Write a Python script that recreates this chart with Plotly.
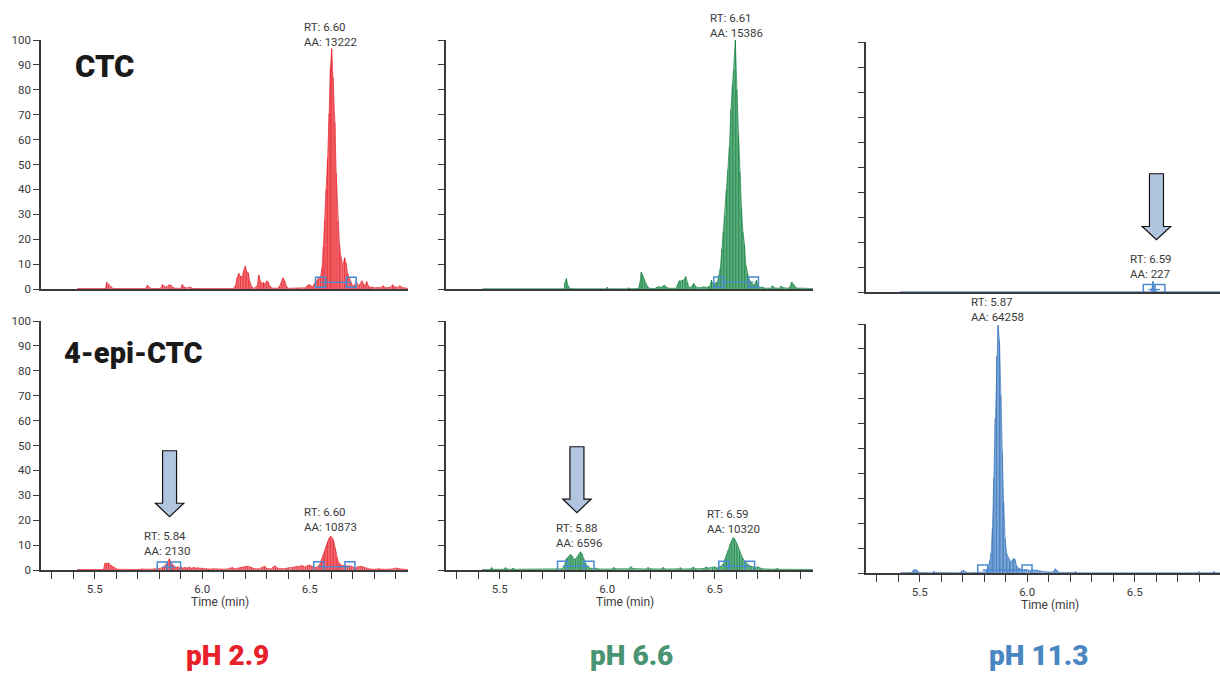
import plotly.graph_objects as go

W, H = 1220, 673

# ---------------- data (time in min, relative intensity %) ----------------
ctc_29_t = [5.42, 5.55, 5.555, 5.565, 5.575, 5.585, 5.735, 5.745, 5.755, 5.765,
            5.805, 5.815, 5.825, 5.835, 5.845, 5.855, 5.865, 5.875, 5.9, 5.907,
            5.915, 5.925, 5.945, 5.955, 6.145, 6.155, 6.162, 6.17, 6.178, 6.186,
            6.193, 6.2, 6.207, 6.214, 6.221, 6.23, 6.24, 6.255, 6.263, 6.27,
            6.278, 6.285, 6.292, 6.3, 6.307, 6.315, 6.325, 6.35, 6.36, 6.368,
            6.376, 6.384, 6.392, 6.4, 6.44, 6.45, 6.48, 6.488, 6.496, 6.504,
            6.512, 6.52, 6.528, 6.535, 6.542, 6.55, 6.558, 6.563, 6.57, 6.576,
            6.583, 6.59, 6.596, 6.602, 6.609, 6.617, 6.623, 6.631, 6.638, 6.645,
            6.654, 6.662, 6.669, 6.676, 6.684, 6.692, 6.70, 6.708, 6.717, 6.725,
            6.733, 6.742, 6.75, 6.757, 6.765, 6.773, 6.78, 6.79, 6.80, 6.815,
            6.83, 6.843, 6.85, 6.86, 6.875, 6.885, 6.893, 6.905, 6.92, 6.93, 6.955]
ctc_29_i = [0.2, 0.2, 2.7, 1.8, 0.7, 0.2, 0.2, 1.5, 0.6, 0.2,
            0.2, 1.8, 1.0, 0.8, 1.7, 1.5, 0.6, 0.3, 0.3, 1.8,
            0.9, 0.4, 0.8, 0.2, 0.2, 1.5, 4.5, 6.3, 5.0, 5.0,
            7.5, 9.2, 7.0, 6.5, 3.0, 1.0, 0.3, 1.2, 5.6, 3.3,
            2.2, 2.6, 2.0, 3.3, 2.8, 1.2, 0.4, 0.3, 1.2, 3.0,
            4.5, 3.2, 1.0, 0.3, 0.3, 0.6, 0.5, 1.3, 1.8, 1.5,
            0.8, 2.0, 3.0, 3.5, 4.5, 5.0, 9.0, 17.0, 28.0, 40.0,
            52.5, 70.5, 89.0, 96.5, 85.0, 67.0, 46.5, 27.0, 18.3, 13.0,
            9.2, 12.6, 10.3, 6.3, 4.3, 2.3, 1.2, 1.5, 3.0, 1.5,
            1.8, 3.3, 1.8, 1.2, 3.0, 1.2, 0.6, 0.8, 0.5, 0.7,
            0.6, 1.3, 0.6, 0.5, 0.7, 1.7, 1.0, 0.6, 1.3, 0.6, 0.3]

ctc_66_t = [5.42, 5.80, 5.803, 5.81, 5.817, 5.825, 5.84, 5.995, 6.0, 6.005,
            6.095, 6.10, 6.105, 6.145, 6.152, 6.158, 6.165, 6.172, 6.18, 6.188,
            6.196, 6.22, 6.232, 6.24, 6.25, 6.258, 6.265, 6.272, 6.28, 6.29,
            6.32, 6.328, 6.335, 6.342, 6.35, 6.358, 6.365, 6.372, 6.38, 6.39,
            6.396, 6.402, 6.41, 6.42, 6.43, 6.44, 6.45, 6.46, 6.47, 6.478,
            6.485, 6.492, 6.50, 6.506, 6.512, 6.519, 6.526, 6.533, 6.54, 6.547,
            6.554, 6.561, 6.568, 6.575, 6.582, 6.589, 6.596, 6.603, 6.61, 6.617,
            6.624, 6.631, 6.638, 6.645, 6.652, 6.659, 6.666, 6.673, 6.68, 6.687,
            6.694, 6.701, 6.71, 6.72, 6.73, 6.76, 6.768, 6.776, 6.80, 6.808,
            6.816, 6.84, 6.85, 6.858, 6.865, 6.872, 6.88, 6.955]
ctc_66_i = [0.1, 0.1, 2.5, 4.2, 1.5, 0.3, 0.1, 0.1, 0.7, 0.1,
            0.1, 0.5, 0.1, 0.2, 2.5, 6.8, 5.5, 3.8, 2.2, 1.0,
            0.3, 0.2, 0.8, 1.0, 0.6, 1.0, 1.6, 1.0, 0.5, 0.3,
            0.3, 2.0, 3.3, 3.2, 3.5, 3.8, 5.0, 2.5, 0.8, 0.5,
            1.5, 2.3, 1.3, 0.6, 0.5, 0.7, 0.9, 0.6, 0.8, 1.2,
            3.6, 1.8, 2.2, 2.5, 2.8, 5.5, 8.5, 16.0, 23.0, 29.6,
            40.0, 48.0, 57.0, 72.0, 82.0, 88.0, 100.0, 80.0, 62.0, 47.0,
            33.0, 23.0, 18.0, 9.5, 6.0, 4.0, 3.0, 2.2, 1.5, 2.2,
            3.5, 1.5, 0.6, 0.8, 0.4, 0.3, 1.3, 0.5, 0.3, 1.2,
            0.6, 0.3, 0.8, 2.8, 2.0, 1.0, 0.4, 0.2]

ctc_113_t = [5.41, 6.575, 6.58, 6.585, 6.59, 6.595, 6.60, 6.61, 6.896]
ctc_113_i = [0.1, 0.1, 1.5, 4.3, 1.8, 1.0, 0.3, 0.1, 0.1]

epi_29_t = [5.42, 5.54, 5.548, 5.556, 5.564, 5.572, 5.58, 5.588, 5.596, 5.605,
            5.70, 5.72, 5.75, 5.78, 5.80, 5.815, 5.825, 5.833, 5.84, 5.847,
            5.855, 5.862, 5.87, 5.878, 5.886, 5.894, 5.902, 5.91, 5.92, 5.93,
            5.94, 5.95, 5.96, 5.97, 5.98, 5.99, 6.0, 6.01, 6.02, 6.03,
            6.05, 6.07, 6.09, 6.11, 6.13, 6.14, 6.15, 6.17, 6.18, 6.19,
            6.20, 6.21, 6.22, 6.23, 6.24, 6.26, 6.28, 6.29, 6.30, 6.32,
            6.33, 6.34, 6.35, 6.37, 6.39, 6.40, 6.42, 6.43, 6.44, 6.45,
            6.46, 6.47, 6.48, 6.49, 6.50, 6.51, 6.52, 6.53, 6.54, 6.548,
            6.555, 6.562, 6.569, 6.576, 6.583, 6.59, 6.597, 6.604, 6.611, 6.618,
            6.625, 6.632, 6.639, 6.646, 6.655, 6.665, 6.675, 6.685, 6.695, 6.705,
            6.715, 6.725, 6.735, 6.745, 6.755, 6.765, 6.78, 6.80, 6.82, 6.84,
            6.87, 6.905, 6.915, 6.955]
epi_29_i = [0.2, 0.2, 2.8, 2.6, 2.8, 2.0, 1.6, 1.2, 0.6, 0.3,
            0.2, 0.4, 0.3, 0.4, 0.6, 1.0, 1.5, 2.5, 3.5, 4.5,
            3.0, 2.2, 1.5, 1.0, 1.3, 0.9, 1.2, 0.8, 1.0, 0.8,
            1.1, 0.7, 1.0, 0.8, 0.9, 0.6, 0.8, 0.5, 0.6, 0.4,
            0.5, 0.3, 0.4, 0.3, 0.6, 1.0, 0.5, 0.8, 1.0, 1.2,
            1.4, 1.5, 1.3, 1.0, 0.6, 0.4, 1.0, 1.5, 0.7, 0.4,
            1.2, 1.6, 0.8, 0.5, 0.6, 0.9, 1.0, 1.2, 1.5, 1.3,
            1.8, 1.6, 1.2, 1.8, 2.0, 1.5, 1.2, 1.0, 1.5, 2.5,
            4.4, 6.0, 7.8, 9.8, 11.5, 12.8, 13.6, 13.0, 11.8, 8.8,
            5.0, 3.5, 2.5, 2.0, 1.8, 1.8, 1.6, 1.8, 1.5, 1.0,
            0.8, 1.3, 1.5, 1.3, 1.0, 0.6, 0.4, 0.3, 0.5, 0.3,
            0.3, 0.8, 0.5, 0.2]

epi_66_t = [5.42, 5.455, 5.462, 5.47, 5.52, 5.527, 5.535, 5.555, 5.562, 5.57,
            5.79, 5.80, 5.808, 5.815, 5.822, 5.83, 5.837, 5.845, 5.852, 5.86,
            5.868, 5.875, 5.882, 5.89, 5.898, 5.905, 5.915, 5.925, 5.95, 5.96,
            6.02, 6.03, 6.04, 6.10, 6.11, 6.12, 6.18, 6.19, 6.20, 6.25,
            6.26, 6.27, 6.33, 6.34, 6.35, 6.39, 6.40, 6.41, 6.45, 6.46,
            6.47, 6.49, 6.50, 6.51, 6.52, 6.53, 6.54, 6.548, 6.555, 6.562,
            6.57, 6.577, 6.585, 6.592, 6.60, 6.607, 6.615, 6.622, 6.63, 6.64,
            6.65, 6.66, 6.67, 6.68, 6.69, 6.70, 6.71, 6.72, 6.78, 6.79,
            6.80, 6.955]
epi_66_i = [0.2, 0.2, 1.0, 0.3, 0.3, 1.0, 0.4, 0.3, 0.8, 0.3,
            0.5, 1.5, 4.3, 4.8, 5.6, 6.3, 5.5, 4.5, 4.3, 5.2,
            6.2, 7.3, 6.6, 4.5, 2.5, 1.5, 1.0, 0.6, 0.7, 0.4,
            0.4, 1.0, 0.5, 0.5, 1.3, 0.6, 0.4, 1.0, 0.5, 0.4,
            1.0, 0.4, 0.5, 0.9, 0.4, 0.5, 1.2, 0.5, 0.6, 1.2,
            0.8, 1.0, 1.3, 0.8, 1.3, 1.6, 2.5, 4.5, 6.3, 8.0,
            10.3, 11.5, 13.0, 12.5, 11.2, 9.5, 7.6, 6.0, 4.8, 3.5,
            2.6, 1.8, 1.5, 1.2, 1.0, 1.3, 0.8, 0.5, 0.3, 0.6,
            0.3, 0.2]

epi_113_t = [5.41, 5.465, 5.47, 5.477, 5.484, 5.49, 5.497, 5.56, 5.565, 5.57,
             5.69, 5.695, 5.702, 5.71, 5.72, 5.76, 5.78, 5.80, 5.81, 5.818,
             5.826, 5.832, 5.838, 5.844, 5.85, 5.857, 5.864, 5.871, 5.877, 5.884,
             5.89, 5.897, 5.904, 5.91, 5.917, 5.923, 5.93, 5.936, 5.943, 5.95,
             5.957, 5.965, 5.975, 5.985, 5.995, 6.005, 6.015, 6.025, 6.035, 6.045,
             6.055, 6.065, 6.08, 6.09, 6.10, 6.11, 6.125, 6.13, 6.137, 6.145,
             6.16, 6.22, 6.225, 6.23, 6.79, 6.80, 6.805, 6.86, 6.87, 6.875, 6.896]
epi_113_i = [0.1, 0.2, 1.2, 1.3, 1.3, 0.8, 0.2, 0.1, 0.8, 0.2,
             0.1, 0.8, 1.1, 0.6, 0.1, 0.2, 0.3, 0.4, 0.8, 2.0,
             5.0, 8.0, 18.0, 38.0, 62.0, 87.0, 99.5, 93.0, 71.4, 48.0,
             28.5, 14.0, 8.0, 6.5, 5.5, 4.4, 5.1, 5.8, 5.5, 3.0,
             2.0, 1.8, 1.2, 1.0, 1.4, 1.2, 1.0, 1.3, 1.2, 1.3,
             0.9, 0.8, 0.5, 0.6, 0.4, 0.3, 0.8, 1.7, 1.2, 0.4,
             0.2, 0.2, 0.6, 0.1, 0.1, 0.5, 0.1, 0.1, 0.6, 0.1, 0.1]

# integration markers (start / end of each integrated peak)
intg_ctc_29 = [([6.55, 6.693], [2.7, 2.7])]
intg_ctc_66 = [([6.519, 6.68], [2.8, 2.8])]
intg_ctc_113 = [([6.563, 6.617], [1.0, 1.0])]
intg_epi_29 = [([5.814, 5.876], [1.2, 1.2]), ([6.542, 6.687], [1.3, 1.3])]
intg_epi_66 = [([5.792, 5.915], [1.5, 1.5]), ([6.542, 6.662], [1.5, 1.5])]
intg_epi_113 = [([5.793, 5.999], [1.2, 1.2])]

# peak labels: (rt, aa, text x position in min, vertical position in axis-domain units)
lab_ctc_29 = [("6.60", "13222", 6.464, 1.024)]
lab_ctc_66 = [("6.61", "15386", 6.469, 1.060)]
lab_ctc_113 = [("6.59", "227", 6.470, 0.101)]
lab_epi_29 = [("5.84", "2130", 5.718, 0.107), ("6.60", "10873", 6.463, 0.201)]
lab_epi_66 = [("5.88", "6596", 5.752, 0.137), ("6.59", "10320", 6.455, 0.194)]
lab_epi_113 = [("5.87", "64258", 5.729, 1.059)]

# arrows: (tip time, tip intensity, head-base intensity, top intensity)
arrows = {4: (5.848, 21.4, 26.8, 47.9), 5: (5.859, 23.0, 28.5, 49.5), 3: (6.601, 20.9, 26.2, 47.3)}

y_tick_vals = [0, 10, 20, 30, 40, 50, 60, 70, 80, 90, 100]
x_tick_vals = [5.3, 5.4, 5.5, 5.6, 5.7, 5.8, 5.9, 6.0, 6.1, 6.2, 6.3, 6.4, 6.5, 6.6, 6.7, 6.8, 6.9]
x_tick_text = ["", "", "5.5", "", "", "", "", "6.0", "", "", "", "", "6.5", "", "", "", ""]
x_title = "Time (min)"
x_title_center = {4: 6.083, 5: 6.083, 6: 6.106}   # time at which the axis title is centred
x_title_px = {4: 602, 5: 602, 6: 605}             # vertical pixel of the axis title

ph_labels = ["pH 2.9", "pH 6.6", "pH 11.3"]
compound_labels = ["CTC", "4-epi-CTC"]

# ---------------- styling ----------------
RED = dict(light="#f98d92", dark="#e31b24")
GREEN = dict(light="#86c9a0", dark="#0c7a3b")
BLUE = dict(light="#a8c7ea", dark="#2d6cb6")
INTG = "#4a8ad0"
AX = "#3a3a3a"
TXT = "#3a3a3a"
FONT = "Roboto, Liberation Sans, Arial, sans-serif"

# panel geometry in pixels: (left, right, top, bottom)
panels = {
    1: (41, 408, 40, 289),
    2: (446, 813, 40, 289),
    3: (866, 1220, 42, 292),
    4: (41, 408, 321, 570),
    5: (446, 813, 321, 570),
    6: (866, 1220, 324, 573),
}
PX_PER_MIN = 215.0
X0 = 5.25

series = {
    1: (ctc_29_t, ctc_29_i, RED, intg_ctc_29, lab_ctc_29),
    2: (ctc_66_t, ctc_66_i, GREEN, intg_ctc_66, lab_ctc_66),
    3: (ctc_113_t, ctc_113_i, BLUE, intg_ctc_113, lab_ctc_113),
    4: (epi_29_t, epi_29_i, RED, intg_epi_29, lab_epi_29),
    5: (epi_66_t, epi_66_i, GREEN, intg_epi_66, lab_epi_66),
    6: (epi_113_t, epi_113_i, BLUE, intg_epi_113, lab_epi_113),
}

fig = go.Figure()
layout = dict(width=W, height=H, margin=dict(l=0, r=0, t=0, b=0, pad=0), autosize=False,
              paper_bgcolor="white", plot_bgcolor="white", showlegend=False)
annotations = []
shapes = []

for k, (l, r, t, b) in panels.items():
    xs = "" if k == 1 else str(k)
    xa, ya = "x" + xs, "y" + xs
    bottom = k >= 4
    layout["xaxis" + xs] = dict(
        domain=[l / W, r / W], anchor=ya, range=[X0, X0 + (r - l) / PX_PER_MIN],
        showline=True, linecolor=AX, linewidth=1.5, showgrid=False, zeroline=False,
        ticks="outside" if bottom else "", ticklen=7, tickwidth=1.2, tickcolor=AX,
        tickvals=x_tick_vals, ticktext=x_tick_text, showticklabels=bottom,
        tickfont=dict(family=FONT, size=11.5, color=TXT), automargin=False,
        fixedrange=True)
    layout["yaxis" + xs] = dict(
        domain=[1 - b / H, 1 - t / H], anchor=xa, range=[0, 100],
        showline=True, linecolor=AX, linewidth=1.5, showgrid=False, zeroline=False,
        ticks="outside", ticklen=6, tickwidth=1.2, tickcolor=AX,
        tickvals=y_tick_vals, showticklabels=(k in (1, 4)), automargin=False,
        tickfont=dict(family=FONT, size=11.5, color=TXT), fixedrange=True)

    tt, ii, col, intg, labs = series[k]
    # light filled envelope of the chromatogram
    fig.add_trace(go.Scatter(x=tt, y=ii, mode="lines", xaxis=xa, yaxis=ya,
                             line=dict(color=col["dark"], width=0.6), fill="tozeroy",
                             fillcolor=col["light"], hoverinfo="skip"))
    # dark stick at each scan
    sx, sy = [], []
    for tv, iv in zip(tt, ii):
        sx += [tv, tv, None]
        sy += [0, iv, None]
    fig.add_trace(go.Scatter(x=sx, y=sy, mode="lines", xaxis=xa, yaxis=ya,
                             line=dict(color=col["dark"], width=0.75), hoverinfo="skip"))
    for (ix, iy) in intg:
        fig.add_trace(go.Scatter(x=ix, y=iy, mode="lines+markers", xaxis=xa, yaxis=ya,
                                 line=dict(color=INTG, width=1.3),
                                 marker=dict(symbol="square-open", size=10, color=INTG,
                                             line=dict(width=1.5, color=INTG))))
    for (rt, aa, lx, ly) in labs:
        annotations.append(dict(text=f"RT: {rt}<br>AA: {aa}", x=lx, xref=xa,
                                y=ly, yref=ya + " domain", xanchor="left", yanchor="middle",
                                align="left", showarrow=False,
                                font=dict(family=FONT, size=11.5, color=TXT)))
    if bottom:
        annotations.append(dict(text=x_title, x=x_title_center[k], xref=xa,
                                y=(b - x_title_px[k]) / (b - t), yref=ya + " domain",
                                xanchor="center", yanchor="middle", showarrow=False,
                                font=dict(family=FONT, size=12, color=TXT)))
    if k in arrows:
        tx, ty, yb, ytop = arrows[k]
        sw, hw = 7.0 / PX_PER_MIN, 14.2 / PX_PER_MIN
        path = (f"M {tx - sw},{ytop} L {tx - sw},{yb} L {tx - hw},{yb} L {tx},{ty} "
                f"L {tx + hw},{yb} L {tx + sw},{yb} L {tx + sw},{ytop} Z")
        shapes.append(dict(type="path", path=path, xref=xa, yref=ya,
                           fillcolor="#b1c5e1", line=dict(color="#111111", width=1.2)))

annotations.append(dict(text=compound_labels[0], x=73 / W, y=1 - 67 / H, xref="paper", yref="paper",
                        xanchor="left", yanchor="middle", showarrow=False,
                        font=dict(family=FONT, size=31, color="#1a1a1a", weight=900)))
annotations.append(dict(text=compound_labels[1], x=62 / W, y=1 - 353 / H, xref="paper", yref="paper",
                        xanchor="left", yanchor="middle", showarrow=False,
                        font=dict(family=FONT, size=29, color="#1a1a1a", weight=900)))
for txt, cx, colr in zip(ph_labels, [227, 631, 1039], ["#e8202a", "#4a9474", "#4a87c2"]):
    annotations.append(dict(text=txt, x=cx / W, y=1 - 655 / H, xref="paper", yref="paper",
                            xanchor="center", yanchor="middle", showarrow=False,
                            font=dict(family=FONT, size=28, color=colr, weight=900)))

layout["annotations"] = annotations
layout["shapes"] = shapes
fig.update_layout(**layout)
fig.write_html("out.html")
